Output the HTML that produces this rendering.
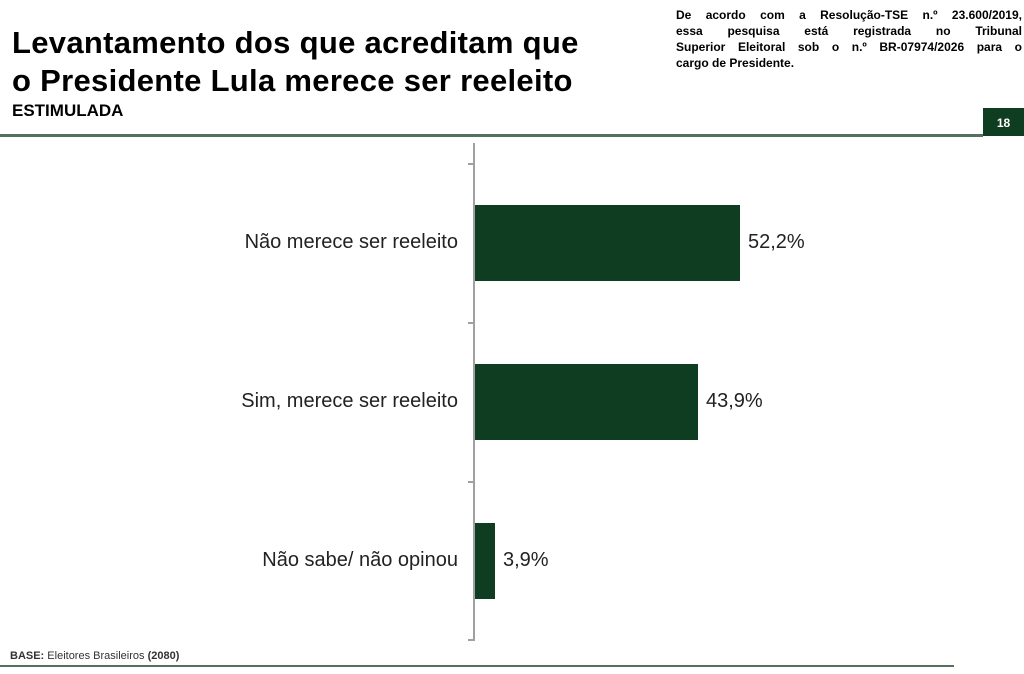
<!DOCTYPE html>
<html><head><meta charset="utf-8"><style>
body{margin:0;width:1024px;height:674px;background:#fff;position:relative;overflow:hidden;font-family:"Liberation Sans",Arial,sans-serif;color:#000}
.a{position:absolute}
.t{left:12px;top:24px;font-size:31px;font-weight:bold;line-height:38px;letter-spacing:0.3px}
.s{left:12px;top:101px;font-size:17px;font-weight:bold}
.n{left:676px;top:7px;width:346px;font-size:12px;font-weight:bold;line-height:16px}
.n div{text-align:justify;text-align-last:justify;white-space:nowrap}
.bar{position:absolute;background:#0f3d22}
.lb{position:absolute;right:566px;font-size:20px;color:#222}
.v{position:absolute;font-size:20px;color:#222}
.tk{position:absolute;left:468px;width:6px;height:2px;background:#a0a0a0}
</style></head><body>
<div class="a t">Levantamento dos que acreditam que<br>o Presidente Lula merece ser reeleito</div>
<div class="a s">ESTIMULADA</div>
<div class="a n"><div>De acordo com a Resolução-TSE n.º 23.600/2019,</div><div>essa pesquisa está registrada no Tribunal</div><div>Superior Eleitoral sob o n.º BR-07974/2026 para o</div><div style="text-align-last:left">cargo de Presidente.</div></div>
<div class="a" style="left:983px;top:108px;width:41px;height:28px;background:#0f3d22;color:#fff;font-size:12px;font-weight:bold;text-align:center;line-height:30px">18</div>
<div class="a" style="left:0;top:134px;width:983px;height:3px;background:#56705e"></div>
<div class="a" style="left:473px;top:143px;width:2px;height:498px;background:#a0a0a0"></div>
<div class="tk" style="top:163px"></div>
<div class="tk" style="top:322px"></div>
<div class="tk" style="top:481px"></div>
<div class="tk" style="top:639px"></div>
<div class="bar" style="left:475px;top:205px;width:265px;height:76px"></div>
<div class="bar" style="left:475px;top:364px;width:223px;height:76px"></div>
<div class="bar" style="left:475px;top:523px;width:20px;height:76px"></div>
<div class="lb" style="top:231px">Não merece ser reeleito</div>
<div class="lb" style="top:390px">Sim, merece ser reeleito</div>
<div class="lb" style="top:549px">Não sabe/ não opinou</div>
<div class="v" style="left:748px;top:231px">52,2%</div>
<div class="v" style="left:706px;top:390px">43,9%</div>
<div class="v" style="left:503px;top:549px">3,9%</div>
<div class="a" style="left:10px;top:650px;font-size:11px;color:#333"><b>BASE:</b> Eleitores Brasileiros <b>(2080)</b></div>
<div class="a" style="left:0;top:665px;width:954px;height:2px;background:#56705e"></div>
</body></html>
